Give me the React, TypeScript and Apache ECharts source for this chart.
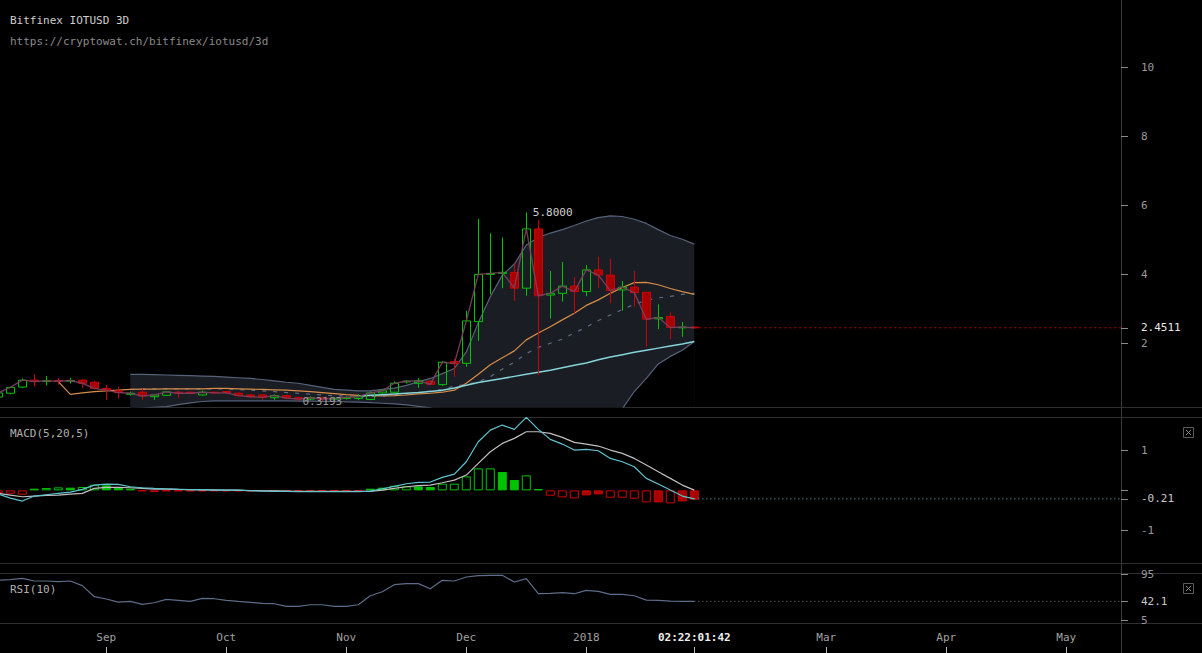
import React, { useEffect, useRef } from 'react';
import * as echarts from 'echarts';

// ---------- DATA (3D candles, index 0 = first candle) ----------
const opens = [0.44,0.55,0.73,0.93,0.89,0.92,0.90,0.93,0.87,0.69,0.62,0.52,0.58,0.45,0.49,0.58,0.58,0.50,0.58,0.60,
  0.55,0.50,0.50,0.42,0.48,0.42,0.38,0.42,0.38,0.40,0.40,0.37,0.56,0.58,0.88,0.84,0.90,0.80,1.47,1.42,
  2.63,4.00,4.03,4.06,3.60,5.32,3.40,3.45,3.66,3.50,4.13,3.98,3.55,3.63,3.48,2.71,2.78,2.45,2.47];
const closes = [0.56,0.72,0.93,0.89,0.91,0.90,0.92,0.84,0.69,0.64,0.57,0.55,0.47,0.50,0.59,0.55,0.55,0.58,0.56,0.56,
  0.48,0.45,0.43,0.48,0.41,0.38,0.42,0.38,0.40,0.43,0.45,0.56,0.62,0.84,0.90,0.91,0.81,1.45,1.41,2.65,
  4.00,4.03,4.06,3.60,5.32,3.38,3.45,3.66,3.50,4.13,3.98,3.53,3.63,3.47,2.70,2.75,2.46,2.47,2.4511];
const lows = [0.42,0.52,0.70,0.74,0.78,0.80,0.83,0.70,0.66,0.35,0.40,0.48,0.36,0.36,0.48,0.42,0.52,0.48,0.52,0.54,
  0.46,0.42,0.36,0.36,0.38,0.33,0.35,0.3193,0.35,0.37,0.35,0.35,0.54,0.54,0.83,0.71,0.79,0.77,1.03,1.32,
  2.07,3.42,3.60,3.23,3.38,1.08,2.72,3.21,2.87,3.37,3.61,3.16,2.95,3.06,1.90,2.41,2.12,2.19,2.44];
const highs = [0.60,0.74,0.98,1.10,1.05,0.99,1.00,0.95,0.91,0.79,0.74,0.60,0.69,0.52,0.60,0.62,0.60,0.63,0.60,0.62,
  0.57,0.52,0.52,0.52,0.50,0.45,0.46,0.44,0.44,0.46,0.52,0.60,0.65,0.90,0.93,0.99,0.93,1.48,1.55,2.94,
  5.61,5.19,5.07,4.32,5.80,5.58,4.10,4.36,3.92,4.27,4.51,4.45,3.81,4.10,3.48,3.13,2.90,2.62,2.49];

// Bollinger bands (start at candle 11)
const bandStart = 11;
const upperBand = [1.10,1.10,1.09,1.08,1.07,1.06,1.05,1.04,1.02,1.00,
  0.98,0.95,0.91,0.87,0.84,0.78,0.72,0.66,0.64,0.62,
  0.62,0.66,0.70,0.78,0.88,0.98,1.12,1.27,1.75,2.60,
  3.35,3.98,4.30,4.85,5.07,5.20,5.30,5.42,5.55,5.65,
  5.70,5.68,5.60,5.48,5.30,5.13,5.02,4.88];
const lowerBand = [0.10,0.12,0.14,0.16,0.22,0.27,0.31,0.33,0.33,0.33,
  0.33,0.33,0.33,0.33,0.32,0.32,0.31,0.31,0.30,0.29,
  0.28,0.26,0.24,0.21,0.17,0.13,0.02,-0.2,-0.5,-0.9,
  -1.2,-1.5,-1.6,-1.7,-1.6,-1.4,-1.2,-0.9,-0.6,-0.35,
  -0.12,0.10,0.60,0.98,1.40,1.62,1.80,2.05];
const middleBand = [0.66,0.67,0.68,0.68,0.68,0.68,0.68,0.68,0.67,0.66,
  0.64,0.62,0.60,0.57,0.55,0.52,0.50,0.48,0.47,0.46,
  0.46,0.47,0.50,0.53,0.57,0.62,0.66,0.76,0.80,0.88,
  1.03,1.25,1.45,1.70,1.88,2.00,2.12,2.30,2.47,2.66,
  2.82,2.98,3.13,3.25,3.32,3.36,3.42,3.45];

// Moving averages
const orangeStart = 5;
const orangeMA = [0.89,0.52,0.56,0.60,0.62,0.64,
  0.66,0.67,0.67,0.68,0.68,0.68,0.68,0.69,0.69,0.68,
  0.67,0.66,0.65,0.64,0.62,0.60,0.57,0.54,0.51,0.49,
  0.48,0.47,0.48,0.50,0.53,0.55,0.58,0.64,0.84,1.10,
  1.38,1.58,1.78,2.10,2.30,2.48,2.68,2.87,3.10,3.26,
  3.45,3.62,3.76,3.77,3.70,3.59,3.50,3.42];
const cyanStart = 30;
const cyanMA = [0.47,0.49,0.51,0.53,0.55,0.57,0.60,0.64,0.70,0.78,
  0.86,0.92,0.98,1.04,1.10,1.16,1.22,1.29,1.36,1.43,
  1.52,1.60,1.67,1.74,1.80,1.86,1.92,1.98,2.05];

// MACD(5,20,5)
const macdLine = [-0.092,-0.191,-0.265,-0.141,-0.108,-0.075,-0.042,0.024,0.131,0.156,
  0.148,0.090,0.065,0.049,0.040,0.024,0.016,0.016,0.007,0.007,
  0.007,-0.009,-0.017,-0.026,-0.026,-0.034,-0.034,-0.034,-0.034,-0.034,
  -0.034,-0.017,0.040,0.099,0.164,0.198,0.206,0.321,0.404,0.710,
  1.205,1.494,1.618,1.511,1.808,1.511,1.263,1.147,0.999,1.015,
  0.982,0.792,0.710,0.586,0.297,0.156,0.007,-0.141,-0.21];
const signalLine = [-0.075,-0.116,-0.158,-0.141,-0.125,-0.116,-0.092,-0.075,0.049,0.074,
  0.074,0.065,0.049,0.032,0.032,0.024,0.016,0.012,0.010,0.007,
  0.007,-0.005,-0.010,-0.015,-0.020,-0.024,-0.026,-0.026,-0.026,-0.026,
  -0.026,-0.026,0.007,0.049,0.090,0.115,0.131,0.189,0.255,0.379,
  0.668,0.957,1.164,1.288,1.453,1.453,1.412,1.313,1.189,1.147,
  1.098,0.999,0.916,0.792,0.627,0.462,0.297,0.131,0.007];
const macdHist = [-0.066,-0.083,-0.107,0.041,0.058,0.074,0.066,0.083,0.140,0.124,0.083,0.041,-0.017,-0.041,
  -0.02,-0.02,-0.02,-0.02,-0.02,-0.02,-0.02,-0.02,-0.02,-0.02,-0.02,-0.02,-0.02,-0.02,-0.02,-0.02,-0.02,
  0.041,0.066,0.116,0.099,0.099,0.083,0.165,0.165,0.347,0.545,0.545,0.454,0.256,0.372,0.033,
  -0.132,-0.173,-0.198,-0.124,-0.099,-0.182,-0.182,-0.207,-0.297,-0.297,-0.322,-0.273,-0.231];
const histHollow = [1,1,1,0,1,1,0,1,1,0,0,0,0,0,
  0,0,0,0,0,0,0,0,0,0,0,0,0,0,0,0,0,
  0,0,1,1,0,0,1,1,1,1,1,0,0,1,0,
  1,1,1,0,0,1,1,1,1,0,1,0,0];

// RSI(10)
const rsi = [83,84.0,86.6,81.5,81.5,80.2,81.5,72.4,51.0,46.5,40.6,41.9,36.1,39.3,45.8,43.9,41.9,47.8,47.1,43.9,
  41.9,40.0,38.0,37.4,32.2,32.2,35.4,35.4,32.2,32.2,35.4,52.9,60.7,74.3,76.3,76.3,66.5,82.8,81.5,89.2,
  91.8,92.5,92.5,79.5,86.0,56.8,57.5,58.8,56.8,63.3,61.4,55.5,55.5,52.9,44.5,43.9,42.6,41.9,42.1];

// Axis ticks / labels
const priceTicks = [2, 4, 6, 8, 10];
const macdTicks = [1, -1];
const rsiTicks = [95, 5];
const monthTickIdx = [9, 19, 29, 39, 49, 69, 79, 89];
const monthLabels = ['Sep', 'Oct', 'Nov', 'Dec', '2018', 'Mar', 'Apr', 'May'];
const countdownText = '02:22:01:42';
const titleText = 'Bitfinex IOTUSD 3D';
const urlText = 'https://cryptowat.ch/bitfinex/iotusd/3d';

// ---------- layout constants ----------
const X_MIN = 0.1417;
const X_MAX = 93.558;
const PLOT_W = 1121;
const FONT = '"DejaVu Sans Mono", monospace';
const GREEN = '#00c400';
const RED = '#d00000';
const RED_FILL = '#a80000';
const BAND = '#56627a';

const pairs = (arr: number[], start: number) => arr.map((v, i) => [start + i, v]);

export default function App() {
  const ref = useRef<HTMLDivElement>(null);
  useEffect(() => {
    document.body.style.margin = '0';
    document.body.style.background = '#000';
    const chart = echarts.init(ref.current as HTMLDivElement, null, { renderer: 'svg' });

    const lastIdx = closes.length - 1;
    const lastPrice = closes[lastIdx];
    const lastMacd = macdLine[lastIdx];
    const lastSignal = signalLine[lastIdx];
    const lastRsi = rsi[lastIdx];

    let hiIdx = 0, loIdx = 0;
    highs.forEach((h, i) => { if (h > highs[hiIdx]) hiIdx = i; });
    lows.forEach((l, i) => { if (l < lows[loIdx]) loIdx = i; });

    const candleData = opens.map((o, i) => [i, o, closes[i], lows[i], highs[i]]);
    const histData = macdHist.map((v, i) => {
      const c = v >= 0 ? GREEN : RED;
      const fill = v >= 0 ? GREEN : RED_FILL;
      return {
        value: [i, v],
        itemStyle: histHollow[i]
          ? { color: 'rgba(0,0,0,0)', borderColor: c, borderWidth: 1 }
          : { color: fill, borderColor: c, borderWidth: 1 },
      };
    });

    const mkX = (gridIndex: number, extra: any = {}) => ({
      type: 'value', gridIndex, min: X_MIN, max: X_MAX,
      axisLine: { show: false }, axisTick: { show: false }, axisLabel: { show: false },
      splitLine: { show: false }, ...extra,
    });
    const axisLabelBase = { color: '#9a9a9a', fontFamily: FONT, fontSize: 11, margin: 20 };
    const tickBase = { show: true, length: 7, lineStyle: { color: '#8a8a8a' } };

    const lineBase = (xi: number, data: any, color: string, extra: any = {}) => ({
      type: 'line', xAxisIndex: xi, yAxisIndex: xi, data, symbol: 'none', silent: true,
      lineStyle: { color, width: 1.2 }, ...extra,
    });

    const option: any = {
      animation: false,
      backgroundColor: '#000',
      grid: [
        { left: 0, top: 0, width: PLOT_W, height: 407, outerBoundsMode: 'none' },
        { left: 0, top: 417, width: PLOT_W, height: 146, outerBoundsMode: 'none' },
        { left: 0, top: 573, width: PLOT_W, height: 50, outerBoundsMode: 'none' },
        { left: 0, top: 623, width: PLOT_W, height: 30, outerBoundsMode: 'none' },
      ],
      xAxis: [
        mkX(0), mkX(1),
        mkX(2, {
          axisLabel: {
            show: true, customValues: [...monthTickIdx, lastIdx], margin: 9,
            color: '#a0a0a0', fontFamily: FONT, fontSize: 11,
            formatter: (v: number) => {
              const i = monthTickIdx.indexOf(v);
              if (i >= 0) return monthLabels[i];
              if (v === lastIdx) return '{cd|' + countdownText + '}';
              return '';
            },
            rich: { cd: { color: '#eeeeee', fontWeight: 'bold', fontFamily: FONT, fontSize: 11 } },
          },
        }),
        mkX(3, {
          axisTick: { show: true, inside: true, length: 6, customValues: [...monthTickIdx, lastIdx], lineStyle: { color: '#bbbbbb' } },
        }),
      ],
      yAxis: [
        {
          type: 'value', gridIndex: 0, position: 'right', min: 0.151, max: 11.965,
          axisLine: { show: false }, splitLine: { show: false },
          axisTick: { ...tickBase, customValues: [...priceTicks, lastPrice] },
          axisLabel: {
            ...axisLabelBase, customValues: [...priceTicks, lastPrice],
            formatter: (v: number) => (v === lastPrice ? '{hi|' + lastPrice.toFixed(4) + '}' : String(v)),
            rich: { hi: { color: '#e8e8e8', fontFamily: FONT, fontSize: 11 } },
          },
        },
        {
          type: 'value', gridIndex: 1, position: 'right', min: -1.8, max: 1.818,
          axisLine: { show: false }, splitLine: { show: false },
          axisTick: { ...tickBase, customValues: [...macdTicks, lastSignal, lastMacd] },
          axisLabel: {
            ...axisLabelBase, customValues: [...macdTicks, lastMacd],
            formatter: (v: number) => (v === lastMacd ? '{hi|' + lastMacd.toFixed(2) + '}' : String(v)),
            rich: { hi: { color: '#c8c8c8', fontFamily: FONT, fontSize: 11 } },
          },
        },
        {
          type: 'value', gridIndex: 2, position: 'right', min: 0, max: 97,
          axisLine: { show: false }, splitLine: { show: false },
          axisTick: { ...tickBase, customValues: [...rsiTicks, lastRsi] },
          axisLabel: {
            ...axisLabelBase, customValues: [...rsiTicks, lastRsi],
            formatter: (v: number) => (v === lastRsi ? '{hi|' + lastRsi.toFixed(1) + '}' : String(v)),
            rich: { hi: { color: '#c8c8c8', fontFamily: FONT, fontSize: 11 } },
          },
        },
        { type: 'value', gridIndex: 3, min: 0, max: 1, show: false },
      ],
      graphic: [
        { type: 'line', silent: true, shape: { x1: 0, y1: 407.5, x2: 1202, y2: 407.5 }, style: { stroke: '#2e2e2e', lineWidth: 1 } },
        { type: 'line', silent: true, shape: { x1: 0, y1: 417.5, x2: 1202, y2: 417.5 }, style: { stroke: '#2e2e2e', lineWidth: 1 } },
        { type: 'line', silent: true, shape: { x1: 0, y1: 563.5, x2: 1202, y2: 563.5 }, style: { stroke: '#2e2e2e', lineWidth: 1 } },
        { type: 'line', silent: true, shape: { x1: 0, y1: 573.5, x2: 1202, y2: 573.5 }, style: { stroke: '#2e2e2e', lineWidth: 1 } },
        { type: 'line', silent: true, shape: { x1: 0, y1: 623.5, x2: 1202, y2: 623.5 }, style: { stroke: '#2e2e2e', lineWidth: 1 } },
        { type: 'line', silent: true, shape: { x1: 1121.5, y1: 0, x2: 1121.5, y2: 653 }, style: { stroke: '#3a3a3a', lineWidth: 1 } },
        { type: 'text', silent: true, x: 10, y: 20, style: { text: titleText, fill: '#cfcfcf', font: '11px ' + FONT, verticalAlign: 'middle', align: 'left' } },
        { type: 'text', silent: true, x: 10, y: 41, style: { text: urlText, fill: '#8a8a8a', font: '11px ' + FONT, verticalAlign: 'middle', align: 'left' } },
        { type: 'text', silent: true, x: 10, y: 433, style: { text: 'MACD(5,20,5)', fill: '#b0b0b0', font: '11px ' + FONT, verticalAlign: 'middle', align: 'left' } },
        { type: 'text', silent: true, x: 10, y: 589, style: { text: 'RSI(10)', fill: '#b0b0b0', font: '11px ' + FONT, verticalAlign: 'middle', align: 'left' } },
        { type: 'rect', silent: true, shape: { x: 1183.5, y: 427.5, width: 10, height: 10 }, style: { fill: 'none', stroke: '#5a5a5a', lineWidth: 1 } },
        { type: 'line', silent: true, shape: { x1: 1186, y1: 430, x2: 1191, y2: 435 }, style: { stroke: '#8a8a8a', lineWidth: 1 } },
        { type: 'line', silent: true, shape: { x1: 1191, y1: 430, x2: 1186, y2: 435 }, style: { stroke: '#8a8a8a', lineWidth: 1 } },
        { type: 'rect', silent: true, shape: { x: 1183.5, y: 583.5, width: 10, height: 10 }, style: { fill: 'none', stroke: '#5a5a5a', lineWidth: 1 } },
        { type: 'line', silent: true, shape: { x1: 1186, y1: 586, x2: 1191, y2: 591 }, style: { stroke: '#8a8a8a', lineWidth: 1 } },
        { type: 'line', silent: true, shape: { x1: 1191, y1: 586, x2: 1186, y2: 591 }, style: { stroke: '#8a8a8a', lineWidth: 1 } },
      ],
      series: [
        // Bollinger fill: upper area down to the bottom, then black under the lower band
        lineBase(0, pairs(upperBand, bandStart), BAND, { z: 1, areaStyle: { color: '#1a1d24', opacity: 1, origin: 'start' } }),
        lineBase(0, pairs(lowerBand, bandStart), BAND, { z: 1, areaStyle: { color: '#000000', opacity: 1, origin: 'start' } }),
        lineBase(0, pairs(middleBand, bandStart), BAND, { z: 2, lineStyle: { color: '#5f6c85', width: 1.2, type: [4, 7] } }),
        lineBase(0, pairs(orangeMA, orangeStart), '#d68d48', { z: 2 }),
        lineBase(0, pairs(cyanMA, cyanStart), '#86d3da', { z: 2, lineStyle: { color: '#86d3da', width: 1.5 } }),
        {
          type: 'candlestick', xAxisIndex: 0, yAxisIndex: 0, z: 3, barWidth: 9, silent: true,
          data: candleData,
          itemStyle: { color: 'rgba(0,0,0,0)', color0: RED_FILL, borderColor: GREEN, borderColor0: RED, borderWidth: 1 },
          markPoint: {
            symbol: 'circle', symbolSize: 1, silent: true,
            itemStyle: { color: 'rgba(0,0,0,0)' },
            data: [
              { coord: [hiIdx, highs[hiIdx]], value: highs[hiIdx], label: { position: 'right', distance: 6, color: '#d0d0d0' } },
              { coord: [loIdx, lows[loIdx]], value: lows[loIdx], label: { position: 'inside', color: '#9a9a9a' } },
            ],
            label: { show: true, fontFamily: FONT, fontSize: 11, formatter: (p: any) => Number(p.value).toFixed(4) },
          },
        },
        lineBase(0, pairs(closes, 0), '#7c3f60', { z: 4, lineStyle: { color: '#7c3f60', width: 1.4, opacity: 0.9 } }),
        lineBase(0, [[lastIdx, lastPrice], [X_MAX, lastPrice]], '#b00000', { z: 4, lineStyle: { color: '#b00000', width: 1, type: [2, 3] } }),

        // MACD
        { type: 'bar', xAxisIndex: 1, yAxisIndex: 1, barWidth: 9, data: histData, silent: true, z: 2 },
        lineBase(1, pairs(signalLine, 0), '#bfbfbf', { z: 3 }),
        lineBase(1, pairs(macdLine, 0), '#5fc4cf', { z: 4 }),
        lineBase(1, [[lastIdx, lastMacd], [X_MAX, lastMacd]], '#5fc4cf', { z: 4, lineStyle: { color: '#5fc4cf', width: 1, type: [1, 3] } }),

        // RSI
        lineBase(2, pairs(rsi, 0), '#5d6c88', { z: 3 }),
        lineBase(2, [[lastIdx, lastRsi], [X_MAX, lastRsi]], '#7a7a7a', { z: 3, lineStyle: { color: '#7a7a7a', width: 1, type: [1, 3] } }),
      ],
    };

    chart.setOption(option);
    return () => chart.dispose();
  }, []);

  return (
    <div
      ref={ref}
      style={{ position: 'absolute', left: 0, top: 0, width: 1202, height: 653, background: '#000' }}
    />
  );
}
